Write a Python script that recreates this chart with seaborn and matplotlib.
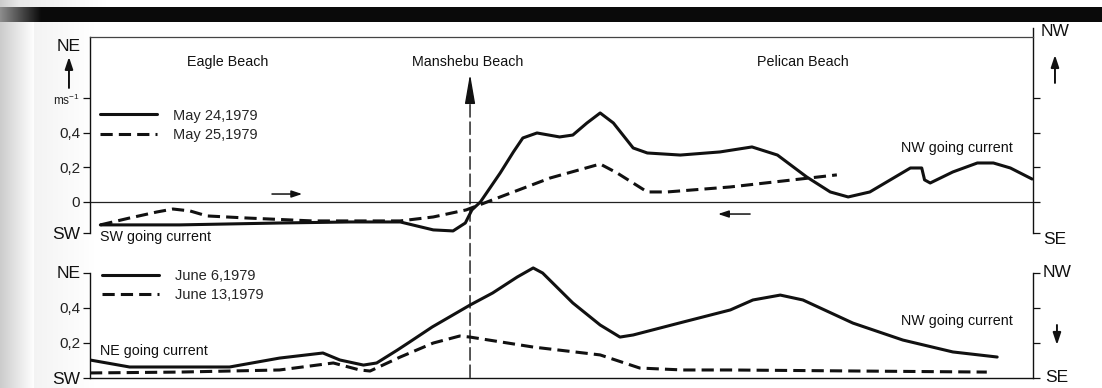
import numpy as np
import pandas as pd
import matplotlib
matplotlib.use("Agg")
import matplotlib.pyplot as plt
import seaborn as sns
from matplotlib.patches import ConnectionPatch

# Relative distance along the coast (0-100) and longshore current speed (m/s)
may24_x = [1.1, 9.5, 20.1, 27.6, 32.9, 36.4, 38.5, 39.8, 40.5, 41.4, 43.5, 44.9, 45.9, 47.4,
           49.8, 51.2, 52.7, 54.1, 55.5, 57.6, 59.1, 62.6, 66.8, 70.2, 72.9, 76.0, 78.5, 80.4,
           82.7, 87.0, 88.2, 88.5, 89.1, 91.5, 94.1, 95.8, 97.6, 99.9]
may24_v = [-0.133, -0.133, -0.122, -0.116, -0.116, -0.162, -0.168, -0.122, -0.046, 0.0,
           0.168, 0.29, 0.371, 0.4, 0.377, 0.388, 0.458, 0.516, 0.458, 0.313,
           0.284, 0.272, 0.29, 0.319, 0.272, 0.145, 0.058, 0.029, 0.058, 0.197,
           0.197, 0.128, 0.11, 0.174, 0.226, 0.226, 0.197, 0.133]

may25_x = [1.1, 4.2, 7.1, 8.8, 10.6, 12.4, 16.6, 23.6, 32.9, 36.4, 39.9, 41.3, 43.5, 48.8,
           54.1, 55.9, 59.1, 61.2, 67.9, 79.2]
may25_v = [-0.133, -0.093, -0.058, -0.041, -0.052, -0.081, -0.093, -0.11, -0.11, -0.087,
           -0.046, -0.017, 0.029, 0.139, 0.22, 0.168, 0.058, 0.058, 0.087, 0.157]

june6_x = [0.0, 4.2, 14.8, 20.1, 24.7, 26.5, 29.0, 30.4, 32.6, 33.9, 36.3, 40.3, 42.7, 45.3,
           47.0, 48.0, 51.2, 54.1, 56.2, 57.6, 62.9, 67.9, 70.3, 73.2, 75.6, 80.9, 86.2, 91.5, 96.2]
june6_v = [0.1, 0.06, 0.06, 0.111, 0.14, 0.1, 0.071, 0.083, 0.157, 0.203, 0.289, 0.414, 0.483,
           0.574, 0.626, 0.597, 0.426, 0.3, 0.231, 0.243, 0.317, 0.386, 0.443, 0.471, 0.443,
           0.311, 0.214, 0.146, 0.117]

june13_x = [0.0, 9.5, 20.1, 25.8, 28.6, 29.7, 32.9, 36.4, 39.2, 40.3, 47.0, 54.1, 58.3, 62.9,
            67.9, 95.1]
june13_v = [0.026, 0.031, 0.043, 0.083, 0.043, 0.037, 0.117, 0.197, 0.237, 0.231, 0.174,
            0.129, 0.054, 0.043, 0.043, 0.031]

dates_top = ["May 24,1979", "May 25,1979"]
dates_bottom = ["June 6,1979", "June 13,1979"]
beaches = ["Eagle Beach", "Manshebu Beach", "Pelican Beach"]
beach_x = [14.6, 40.0, 75.6]
manshebu_x = 40.3

top_ticks = [-0.18, 0, 0.2, 0.4, 0.6]
top_labels = ["SW", "0", "0,2", "0,4", "ms$^{-1}$"]
bottom_ticks = [0, 0.2, 0.4, 0.6]
bottom_labels = ["SW", "0,2", "0,4", "NE"]

sns.set_theme(style="white")
plt.rcParams["font.family"] = ["Liberation Sans", "DejaVu Sans"]
plt.rcParams["mathtext.default"] = "regular"

W, H = 1102, 388
fig = plt.figure(figsize=(W / 100, H / 100), dpi=100)
fig.patch.set_facecolor("white")

# page background: dark header band and shaded gutter on the left edge
bg = np.ones((H, W, 3))
cols = np.arange(W)
gutter = np.clip(0.80 + 0.20 * cols / 34.0, 0, 1)
gutter = np.where(cols < 34, gutter, np.clip(0.955 + 0.045 * (cols - 34) / 60.0, 0, 1))
bg[:, :, :] = gutter[None, :, None]
corner = np.clip(0.90 + 0.10 * cols[:110] / 110.0, 0, 1)
bg[0:7, :110, :] = np.minimum(bg[0:7, :110, :], corner[None, :, None])
band = np.clip(0.55 - 0.5 * cols / 40.0, 0.04, 1)
bg[7:22, :, :] = band[None, :, None]
bax = fig.add_axes([0, 0, 1, 1], zorder=-10)
bax.imshow(bg, aspect="auto", interpolation="bilinear")
bax.axis("off")

ink = "#111111"
lw_curve = 2.2
dash_map_top = {dates_top[0]: "", dates_top[1]: (4, 2)}
dash_map_bot = {dates_bottom[0]: "", dates_bottom[1]: (4, 2)}

# ---------------- upper panel: May 1979 ----------------
ax1 = fig.add_axes([90 / W, 1 - 233 / H, 943 / W, 196 / H])
may = pd.DataFrame({
    "distance": may24_x + may25_x,
    "speed": may24_v + may25_v,
    "date": [dates_top[0]] * len(may24_x) + [dates_top[1]] * len(may25_x),
})
sns.lineplot(data=may, x="distance", y="speed", style="date", dashes=dash_map_top,
             style_order=dates_top, color=ink, linewidth=lw_curve, estimator=None,
             sort=False, legend=False, ax=ax1)
handles = ax1.get_lines()[:2]
ax1.legend(handles, dates_top, loc="upper left", bbox_to_anchor=(0.0106, 0.635),
           frameon=False, fontsize=10.5, handlelength=3.9, handletextpad=1.1,
           labelspacing=0.35, borderpad=0, borderaxespad=0)
ax1.axhline(0, color="#222222", lw=0.9, zorder=1)
ax1.set_xlim(0, 100)
ax1.set_ylim(-0.18, 0.9565)
ax1.set_xlabel("")
ax1.set_ylabel("")
ax1.set_xticks([])
ax1.set_yticks(top_ticks)
ax1.set_yticklabels(top_labels)
ax1.tick_params(axis="y", left=True, right=True, direction="out", length=5, width=0.9,
                color=ink, labelsize=11, labelcolor="#222222", pad=2)
for t in ax1.get_yticklabels():
    if t.get_text() == "SW":
        t.set_fontsize(12.5)
        t.set_color(ink)
    if "ms" in t.get_text():
        t.set_fontsize(8.5)
ax1.spines["bottom"].set_visible(False)
ax1.spines["top"].set_color("#444444")
ax1.spines["top"].set_linewidth(0.9)
for s in ("left", "right"):
    ax1.spines[s].set_color(ink)
    ax1.spines[s].set_linewidth(1.0)
ax1.spines["right"].set_bounds(-0.18, 1.009)
ax1.patch.set_alpha(0)

ytr1 = ax1.get_yaxis_transform()
ax1.text(-0.0228, 0.901, "NE", transform=ytr1, ha="center", va="center", fontsize=12.5, color=ink)
ax1.annotate("", xy=(-0.0223, 0.841), xycoords=ytr1, xytext=(-0.0223, 0.661), textcoords=ytr1,
             arrowprops=dict(arrowstyle="-|>,head_length=0.9,head_width=0.3", color=ink, lw=1.4,
                             mutation_scale=8, shrinkA=0, shrinkB=0), annotation_clip=False)
ax1.text(1.0233, 0.99, "NW", transform=ytr1, ha="center", va="center", fontsize=12.5, color=ink)
ax1.annotate("", xy=(1.0233, 0.852), xycoords=ytr1, xytext=(1.0233, 0.69), textcoords=ytr1,
             arrowprops=dict(arrowstyle="-|>,head_length=0.9,head_width=0.3", color=ink, lw=1.4,
                             mutation_scale=8, shrinkA=0, shrinkB=0), annotation_clip=False)
ax1.text(1.0233, -0.215, "SE", transform=ytr1, ha="center", va="center", fontsize=12.5, color=ink)

for name, bx in zip(beaches, beach_x):
    ax1.text(bx, 0.812, name, ha="center", va="center", fontsize=10.3, color=ink)
ax1.text(91.9, 0.313, "NW going current", ha="center", va="center", fontsize=10.3, color=ink)
ax1.text(1.06, -0.203, "SW going current", ha="left", va="center", fontsize=10.3, color=ink)

# small direction arrows along the zero line
ax1.annotate("", xy=(22.5, 0.046), xytext=(19.3, 0.046),
             arrowprops=dict(arrowstyle="-|>,head_length=0.9,head_width=0.3", color=ink, lw=1.1,
                             mutation_scale=7, shrinkA=0, shrinkB=0))
ax1.annotate("", xy=(66.6, -0.07), xytext=(70.0, -0.07),
             arrowprops=dict(arrowstyle="-|>,head_length=0.9,head_width=0.3", color=ink, lw=1.1,
                             mutation_scale=7, shrinkA=0, shrinkB=0))

# ---------------- lower panel: June 1979 ----------------
ax2 = fig.add_axes([90 / W, 1 - 377.5 / H, 943 / W, 113.75 / H])
june = pd.DataFrame({
    "distance": june6_x + june13_x,
    "speed": june6_v + june13_v,
    "date": [dates_bottom[0]] * len(june6_x) + [dates_bottom[1]] * len(june13_x),
})
sns.lineplot(data=june, x="distance", y="speed", style="date", dashes=dash_map_bot,
             style_order=dates_bottom, color=ink, linewidth=lw_curve, estimator=None,
             sort=False, legend=False, ax=ax2)
handles2 = ax2.get_lines()[:2]
ax2.legend(handles2, dates_bottom, loc="upper left", bbox_to_anchor=(0.0127, 0.957),
           frameon=False, fontsize=10.5, handlelength=3.9, handletextpad=1.1,
           labelspacing=0.35, borderpad=0, borderaxespad=0)
ax2.set_xlim(0, 100)
ax2.set_ylim(0, 0.65)
ax2.set_xlabel("")
ax2.set_ylabel("")
ax2.set_xticks([])
ax2.set_yticks(bottom_ticks)
ax2.set_yticklabels(bottom_labels)
ax2.tick_params(axis="y", left=True, right=True, direction="out", length=5, width=0.9,
                color=ink, labelsize=11, labelcolor="#222222", pad=2)
for t in ax2.get_yticklabels():
    if t.get_text() in ("SW", "NE"):
        t.set_fontsize(12.5)
        t.set_color(ink)
ax2.spines["top"].set_visible(False)
for s in ("left", "right", "bottom"):
    ax2.spines[s].set_color(ink)
    ax2.spines[s].set_linewidth(1.0)
ax2.spines["left"].set_bounds(0, 0.6)
ax2.spines["right"].set_bounds(0, 0.6)
ax2.patch.set_alpha(0)

ytr2 = ax2.get_yaxis_transform()
ax2.text(1.0255, 0.6, "NW", transform=ytr2, ha="center", va="center", fontsize=12.5, color=ink)
ax2.text(1.0255, 0.0, "SE", transform=ytr2, ha="center", va="center", fontsize=12.5, color=ink)
ax2.annotate("", xy=(1.0254, 0.186), xycoords=ytr2, xytext=(1.0254, 0.3), textcoords=ytr2,
             arrowprops=dict(arrowstyle="-|>,head_length=0.9,head_width=0.3", color=ink, lw=1.4,
                             mutation_scale=8, shrinkA=0, shrinkB=0), annotation_clip=False)
ax2.text(1.06, 0.151, "NE going current", ha="left", va="center", fontsize=10.3, color=ink)
ax2.text(91.9, 0.325, "NW going current", ha="center", va="center", fontsize=10.3, color=ink)

# Manshebu Beach marker spanning both panels
con = ConnectionPatch(xyA=(manshebu_x, 0), coordsA=ax2.transData,
                      xyB=(manshebu_x, 0.62), coordsB=ax1.transData,
                      color=ink, lw=1.0, linestyle=(0, (9, 3.5)))
fig.add_artist(con)
ax1.annotate("", xy=(manshebu_x, 0.742), xytext=(manshebu_x, 0.597),
             arrowprops=dict(arrowstyle="-|>,head_length=2.6,head_width=0.45", color=ink,
                             lw=1.0, mutation_scale=7, shrinkA=0, shrinkB=0))

fig.savefig("out.png", dpi=100, facecolor="white")
